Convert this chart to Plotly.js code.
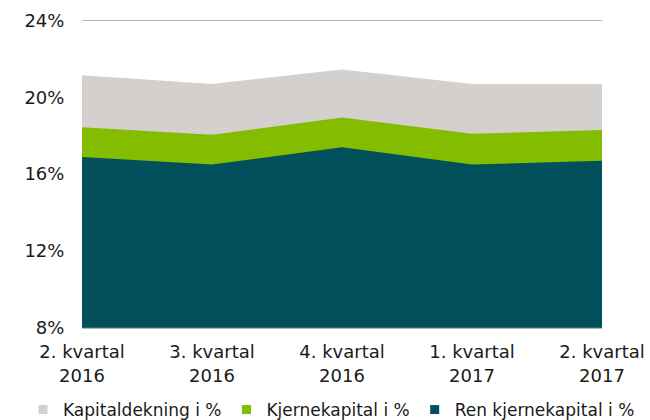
<!DOCTYPE html>
<html>
<head>
<meta charset="utf-8">
<script src="https://cdn.plot.ly/plotly-3.0.1.min.js"></script>
<style>html,body{margin:0;padding:0;background:#fff;}#chart{width:650px;height:420px;}</style>
</head>
<body>
<div id="chart"></div>
<script>
const categories = ["2. kvartal<br>2016", "3. kvartal<br>2016", "4. kvartal<br>2016", "1. kvartal<br>2017", "2. kvartal<br>2017"];
const kapitaldekning = [21.15, 20.7, 21.45, 20.7, 20.7];
const kjernekapital = [18.45, 18.05, 18.95, 18.1, 18.3];
const renKjernekapital = [16.9, 16.5, 17.4, 16.5, 16.7];
const seriesNames = ["Kapitaldekning i %", "Kjernekapital i %", "Ren kjernekapital i %"];
const colors = ["#d4d0cd", "#84bd00", "#01505b"];
const yTicks = [8, 12, 16, 20, 24];
const yTickText = ["8%", "12%", "16%", "20%", "24%"];

const seriesValues = [kapitaldekning, kjernekapital, renKjernekapital];
const FONT = "DejaVu Sans, Verdana, sans-serif";
const TXT = "#1a1a1a";

const traces = [];
seriesValues.forEach((vals, i) => {
  traces.push({
    type: "scatter", mode: "lines", x: categories, y: vals,
    fill: "tozeroy", fillcolor: colors[i],
    line: {width: 0, color: colors[i]},
    showlegend: false, hoverinfo: "skip"
  });
});
// legend entries: same data on a hidden axis whose range keeps the markers out of view
seriesValues.forEach((vals, i) => {
  traces.push({
    type: "scatter", mode: "markers", x: categories, y: vals,
    yaxis: "y2", name: seriesNames[i], cliponaxis: true,
    marker: {symbol: "square", size: 9, color: colors[i]},
    showlegend: true, hoverinfo: "skip"
  });
});

// the legend pushes the bottom margin to about 27px, leaving a 393px-high plotting frame
const FRAME_H = 393;

const layout = {
  width: 650, height: 420,
  margin: {l: 0, r: 0, t: 0, b: 0},
  paper_bgcolor: "#fff", plot_bgcolor: "#fff",
  font: {family: FONT, size: 18, color: TXT},
  showlegend: true,
  legend: {
    orientation: "h", x: 0.0354, xanchor: "left",
    yref: "container", y: 10 / 420, yanchor: "middle",
    font: {family: FONT, size: 17, color: TXT},
    traceorder: "normal", itemclick: false, itemdoubleclick: false,
    bgcolor: "rgba(0,0,0,0)"
  },
  xaxis: {
    domain: [82 / 650, 602 / 650],
    type: "category", categoryorder: "array", categoryarray: categories,
    range: [0, categories.length - 1],
    showgrid: false, zeroline: false,
    showline: true, mirror: true, linecolor: "#b3b3b3", linewidth: 1,
    ticks: "outside", ticklen: 8, tickcolor: "rgba(0,0,0,0)",
    tickfont: {family: FONT, size: 18, color: TXT},
    fixedrange: true, automargin: false
  },
  yaxis: {
    domain: [1 - 328.5 / FRAME_H, 1 - 20.7 / FRAME_H],
    range: [8, 24], tickmode: "array", tickvals: yTicks, ticktext: yTickText,
    showgrid: true, gridcolor: "#b3b3b3", gridwidth: 1,
    zeroline: false, showline: false,
    ticks: "outside", ticklen: 13, tickcolor: "rgba(0,0,0,0)",
    tickfont: {family: FONT, size: 18, color: TXT},
    fixedrange: true, automargin: false
  },
  yaxis2: {
    overlaying: "y", range: [1000, 1001], visible: false, fixedrange: true
  }
};

Plotly.newPlot("chart", traces, layout, {displayModeBar: false, staticPlot: true});
</script>
</body>
</html>
